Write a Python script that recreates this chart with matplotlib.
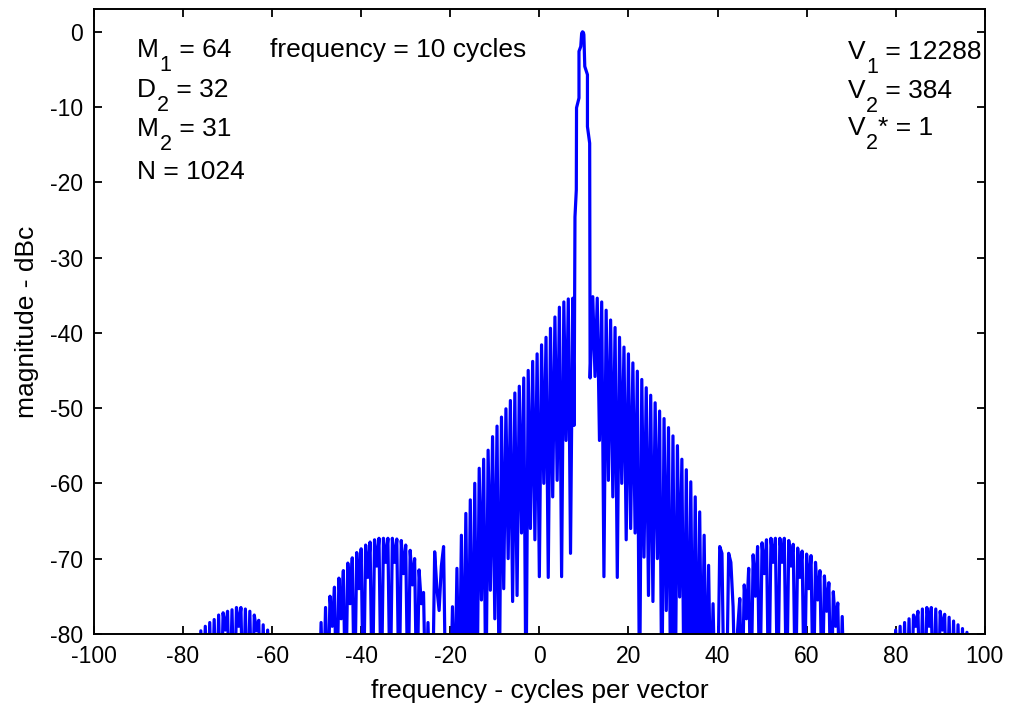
import numpy as np
import matplotlib
matplotlib.use("Agg")
import matplotlib.pyplot as plt

plt.rcParams['font.family'] = ['Liberation Sans', 'DejaVu Sans']
plt.rcParams['axes.unicode_minus'] = False

F = -90  # spectrum below the -80 dB floor (clipped by the axes)

# left part: -100 .. 7.5 cycles, 0.5 spacing
left_db = (
    [F] * 48
    + [-79.6, F, -79.0, F, -78.5, F, -78.1, F, -77.5, F, -77.2, -79.5, -77.0, F, -76.8, F,
       -76.5, -79.0, -76.5, F, -76.7, F, -77.0, F, -77.5, -79.6, -78.2, F, -78.8, F, -79.5, F]
    + [F] * 22
    + [-78.5, F, -76.5, F, -75.0, -79.0, -73.8, F, -72.6, -78.0, -71.6, F, -70.6, -76.0,
       -69.9, F, -69.2, -74.0, -68.7, F, -68.2, -72.5, -67.8, F, -67.5, -71.0, -67.3, F,
       -67.3, -70.5, -67.3, F, -67.3, -70.5, -67.4, F, -67.6, -72.0, -68.2, F, -68.9, -73.5,
       -70.0, F, -71.5, -76.0, -74.5, F, -78.5, F]
    + [F, -69.1, -74.0, -76.9, -71.0, -68.4, F, F, F, -76.4, F, -71.3, F, -66.9, F]
    + [-64.0, F, -62.2, F, -60.0, F, -58.0, -75.5, -56.8, F, -55.6, -74.2, -53.8, -78.0,
       -52.4, F, -51.2, -74.0, -50.1, -70.0, -49.0, -75.7, -48.0, -74.9, -47.1, -66.6,
       -46.0, F, -45.0, -66.0, -43.8, -67.5, -42.8, -72.4, -41.6, -60.0, -40.6, -72.5,
       -39.4, -61.8, -37.9, -59.6, -36.6, -72.4, -35.9, -54.3, -35.5, -69.3, -35.4]
)
left_freq = np.arange(-100, 7.75, 0.5)

# main lobe around 10 cycles
main_freq = [7.8, 8.0, 8.3, 8.35, 8.9, 8.9, 9.3, 9.5, 9.7, 9.9, 10.0, 10.2, 10.8, 10.8, 11.3, 11.4]
main_db = [-52.3, -24.6, -21.0, -10.1, -8.8, -2.6, -1.95, -0.2, 0.0, -0.1, -0.4, -4.6,
           -5.7, -12.6, -14.8, -46.0]

# right part: 12 .. 100 cycles, 0.5 spacing
right_db = (
    [-35.2, -45.8, -35.4, -54.3, -35.9, -72.4, -37.0, -59.6, -38.3, -61.8, -39.3, -72.5,
     -40.6, -60.0, -41.9, -67.5, -42.8, -66.0, -44.0, -66.6, -45.1, F, -46.2, -69.8,
     -47.3, -74.9, -48.3, -75.7, -49.3, -70.0, -50.4, F, -51.4, -76.9, -52.6, F, -53.7, F,
     -55.0, -75.1, -56.8, F, -58.2, F, -59.8, F, -61.8, F, -63.8, F, -66.9, F, -70.9, F,
     -76.0, F]
    + [F, -68.4, -69.3, F, F, -69.3, -70.5, -76.4, F, -79.6]
    + [-75.3, F, -73.5, -78.0, -71.3, F, -69.5, -75.0, -68.4, F, -67.9, -72.0, -67.5, F,
       -67.3, -70.5, -67.3, F, -67.3, -70.5, -67.3, F, -67.6, -71.0, -68.1, F, -68.6, -72.5,
       -69.0, F, -69.4, -74.0, -69.6, F, -70.5, -75.5, -71.6, F, -72.3, -77.0, -73.2, F,
       -74.4, -79.0, -75.9, F, -77.7, F]
    + [F] * 22
    + [-79.5, F, -79.0, F, -78.5, F, -78.0, F, -77.5, -79.0, -77.0, F, -76.7, F, -76.5, -79.0,
       -76.5, F, -76.7, F, -77.0, -79.5, -77.4, F, -77.8, F, -78.3, F, -78.8, F, -79.3, F,
       -79.8, F]
    + [F] * 7
)
right_freq = np.arange(12, 100.25, 0.5)

freq = np.concatenate([left_freq, main_freq, right_freq])
mag = np.concatenate([left_db, main_db, right_db])

x_ticks = np.arange(-100, 101, 20)
y_ticks = np.arange(-80, 1, 10)

TXT = 19
SUB = 15.5

fig = plt.figure(figsize=(10.1, 7.09), dpi=100)
ax = fig.add_axes([0.093, 0.106, 0.882, 0.881])
ax.plot(freq, mag, color='#0000ff', linewidth=2.3)

ax.set_xlim(-100, 100)
ax.set_ylim(-80, 3)
ax.set_xticks(x_ticks)
ax.set_yticks(y_ticks)
ax.tick_params(direction='in', top=True, right=True, length=6, width=1.3,
               labelsize=16.5, pad=8)
for sp in ax.spines.values():
    sp.set_linewidth(1.4)
ax.set_xlabel("frequency - cycles per vector", fontsize=TXT, labelpad=8)
ax.set_ylabel("magnitude - dBc", fontsize=TXT, labelpad=8)


def sub_label(x, y, base, sub, rest):
    t = ax.text(x, y, base, fontsize=TXT, va='baseline', ha='left')
    s = ax.annotate(sub, xy=(1, 0), xycoords=t, xytext=(0.5, 5.0),
                    textcoords='offset points', fontsize=SUB, va='top', ha='left')
    ax.annotate(rest, xy=(1, 0), xycoords=(s, t), fontsize=TXT, va='bottom', ha='left')


sub_label(-90.3, -3.3, "M", "1", " = 64")
sub_label(-90.3, -8.6, "D", "2", " = 32")
sub_label(-90.3, -13.9, "M", "2", " = 31")
ax.text(-90.3, -19.6, "N = 1024", fontsize=TXT, va='baseline', ha='left')
ax.text(-60.5, -3.3, "frequency = 10 cycles", fontsize=TXT, va='baseline', ha='left')

sub_label(69.2, -3.6, "V", "1", " = 12288")
sub_label(69.2, -8.8, "V", "2", " = 384")
sub_label(69.2, -13.7, "V", "2", "* = 1")

fig.savefig("out.png", dpi=100)
